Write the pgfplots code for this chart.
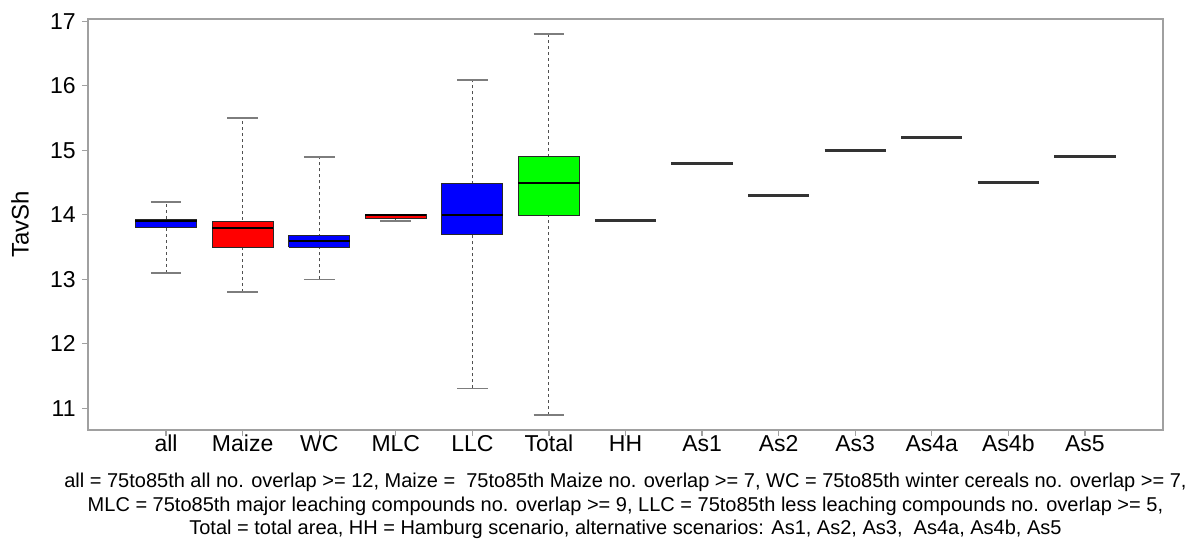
\documentclass[border=0pt]{standalone}
\usepackage{fontspec}
\setmainfont{Liberation Sans}
\usepackage{pgfplots}
\pgfplotsset{compat=1.18}
\definecolor{frame}{RGB}{160,160,160}
\definecolor{capc}{RGB}{125,125,125}
\definecolor{whc}{RGB}{80,80,80}
\definecolor{boxedge}{RGB}{40,40,40}
\begin{document}
\begin{tikzpicture}
\begin{axis}[
  scale only axis, width=537.5pt, height=205.5pt,
  xmin=-0.02, xmax=14.02, ymin=10.664, ymax=17.036,
  axis line style={draw=frame, line width=1pt},
  tick pos=left,
  xtick={1,...,13},
  xticklabels={all,Maize,WC,MLC,LLC,Total,HH,As1,As2,As3,As4a,As4b,As5},
  ytick={11,...,17},
  tick align=outside,
  major tick length=3pt,
  tick style={draw=frame, line width=0.6pt},
  ticklabel style={font=\fontsize{11.5}{12}\selectfont},
  xticklabel style={anchor=north, inner sep=0pt, text height=8.3pt, text depth=0pt, yshift=1pt},
  yticklabel style={anchor=east, inner sep=0pt, xshift=-3pt},
  /pgf/number format/assume math mode=true,
  ylabel={TavSh},
  ylabel style={font=\fontsize{12}{12}\selectfont, at={(axis description cs:0,0.5)}, anchor=center, yshift=34pt},
  whisk/.style={draw=whc, line width=0.5pt, dash pattern=on 1.5pt off 1.5pt},
  cap/.style={draw=capc, line width=0.8pt},
  bx/.style={draw=boxedge, line width=0.5pt, fill=#1},
  med/.style={draw=black, line width=1pt},
  single/.style={draw=black!80, line width=1.3pt},
]
% ---- whiskers (dashed) ----
\addplot[whisk] coordinates {(1,13.1) (1,14.2)};
\addplot[whisk] coordinates {(2,12.8) (2,15.5)};
\addplot[whisk] coordinates {(3,13.0) (3,14.9)};
\addplot[whisk] coordinates {(4,13.9) (4,13.94)};
\addplot[whisk] coordinates {(5,11.31) (5,16.09)};
\addplot[whisk] coordinates {(6,10.9) (6,16.8)};
% ---- whisker caps ----
\addplot[cap] coordinates {(0.8,13.1) (1.2,13.1)};
\addplot[cap] coordinates {(0.8,14.2) (1.2,14.2)};
\addplot[cap] coordinates {(1.8,12.8) (2.2,12.8)};
\addplot[cap] coordinates {(1.8,15.5) (2.2,15.5)};
\addplot[cap] coordinates {(2.8,13.0) (3.2,13.0)};
\addplot[cap] coordinates {(2.8,14.9) (3.2,14.9)};
\addplot[cap] coordinates {(3.8,13.9) (4.2,13.9)};
\addplot[cap] coordinates {(4.8,11.31) (5.2,11.31)};
\addplot[cap] coordinates {(4.8,16.09) (5.2,16.09)};
\addplot[cap] coordinates {(5.8,10.9) (6.2,10.9)};
\addplot[cap] coordinates {(5.8,16.8) (6.2,16.8)};
% ---- boxes (lower quartile to upper quartile) ----
\addplot[bx=blue]  coordinates {(0.6,13.8) (1.4,13.8) (1.4,13.92) (0.6,13.92) (0.6,13.8)};
\addplot[bx=red]   coordinates {(1.6,13.49) (2.4,13.49) (2.4,13.9) (1.6,13.9) (1.6,13.49)};
\addplot[bx=blue]  coordinates {(2.6,13.5) (3.4,13.5) (3.4,13.68) (2.6,13.68) (2.6,13.5)};
\addplot[bx=red]   coordinates {(3.6,13.94) (4.4,13.94) (4.4,14.005) (3.6,14.005) (3.6,13.94)};
\addplot[bx=blue]  coordinates {(4.6,13.69) (5.4,13.69) (5.4,14.49) (4.6,14.49) (4.6,13.69)};
\addplot[bx=green] coordinates {(5.6,13.99) (6.4,13.99) (6.4,14.9) (5.6,14.9) (5.6,13.99)};
% ---- medians ----
\addplot[med] coordinates {(0.6,13.9) (1.4,13.9)};
\addplot[med] coordinates {(1.6,13.79) (2.4,13.79)};
\addplot[med] coordinates {(2.6,13.6) (3.4,13.6)};
\addplot[med] coordinates {(3.6,14.0) (4.4,14.0)};
\addplot[med] coordinates {(4.6,14.0) (5.4,14.0)};
\addplot[med] coordinates {(5.6,14.49) (6.4,14.49)};
% ---- single-value scenarios ----
\addplot[single] coordinates {(6.6,13.91) (7.4,13.91)};
\addplot[single] coordinates {(7.6,14.8) (8.4,14.8)};
\addplot[single] coordinates {(8.6,14.3) (9.4,14.3)};
\addplot[single] coordinates {(9.6,15.0) (10.4,15.0)};
\addplot[single] coordinates {(10.6,15.2) (11.4,15.2)};
\addplot[single] coordinates {(11.6,14.5) (12.4,14.5)};
\addplot[single] coordinates {(12.6,14.9) (13.4,14.9)};
\end{axis}
\node[anchor=north, align=center, font=\fontsize{10}{11.75}\selectfont, inner sep=0pt]
  at ([yshift=-21.5pt]current axis.south)
  {all = 75to85th all no. overlap >= 12, Maize = \ 75to85th Maize no. overlap >= 7, WC = 75to85th winter cereals no. overlap >= 7,\\
   MLC = 75to85th major leaching compounds no. overlap >= 9, LLC = 75to85th less leaching compounds no. overlap >= 5,\\
   Total = total area, HH = Hamburg scenario, alternative scenarios: As1, As2, As3, \ As4a, As4b, As5};
\pgfresetboundingbox
\path ([shift={(-44pt,-56pt)}]current axis.south west) rectangle ([shift={(15pt,9.5pt)}]current axis.north east);
\end{tikzpicture}
\end{document}
